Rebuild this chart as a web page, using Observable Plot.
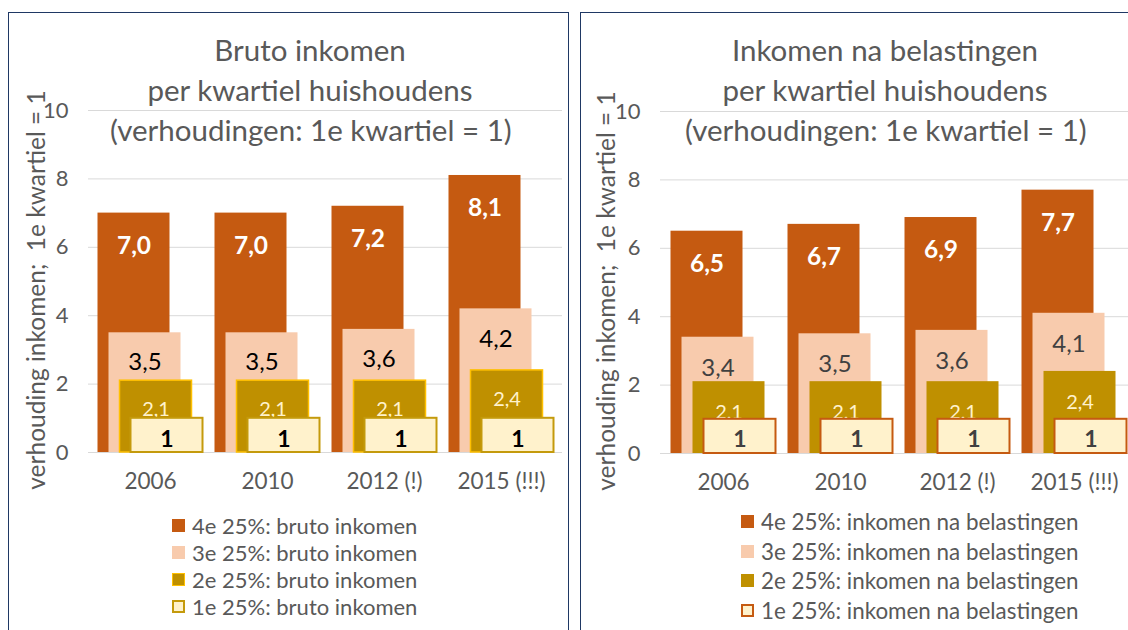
<!DOCTYPE html>
<html>
<head>
<meta charset="utf-8">
<script src="https://cdn.jsdelivr.net/npm/d3@7"></script>
<script src="https://cdn.jsdelivr.net/npm/@observablehq/plot@0.6"></script>
<style>
  html, body { margin: 0; padding: 0; background: #fff; }
  #page { position: relative; width: 1128px; height: 630px; overflow: hidden; background: #fff; font-family: Lato, "Open Sans", sans-serif; color: #595959; }
  .panel { position: absolute; border: 1.5px solid #1f3864; box-sizing: border-box; }
  .chart { position: absolute; top: 0; }
  .chart svg { max-width: none !important; }
  .title { position: absolute; text-align: center; font-size: 29.5px; line-height: 40px; color: #595959; white-space: nowrap; }
  .ylab { position: absolute; font-size: 24.5px; color: #595959; white-space: pre; transform: translate(-50%, -50%) rotate(-90deg); }
  .legend { position: absolute; color: #595959; }
  .legend .row { display: flex; align-items: center; white-space: nowrap; }
  .legend .sw { width: 13px; height: 13px; box-sizing: border-box; margin-right: 7px; flex: none; }
</style>
</head>
<body>
<div id="page">
  <div class="panel" style="left:8px; top:12px; width:561px; height:640px;"></div>
  <div class="panel" style="left:580px; top:12px; width:600px; height:640px;"></div>
  <div id="left" class="chart" style="left:0px; width:570px;"></div>
  <div id="right" class="chart" style="left:580px; width:560px;"></div>
  <div class="title" style="left:110px; width:400px; top:30px;">Bruto inkomen<br>per kwartiel huishoudens<br>(verhoudingen: 1e kwartiel = 1)</div>
  <div class="title" style="left:685px; width:400px; top:30px;">Inkomen na belastingen<br>per kwartiel huishoudens<br>(verhoudingen: 1e kwartiel = 1)</div>
  <div class="ylab" style="left:35px; top:290px;">verhouding inkomen;  1e kwartiel = 1</div>
  <div class="ylab" style="left:605px; top:291px;">verhouding inkomen;  1e kwartiel = 1</div>
  <div id="legL" class="legend" style="left:172px; top:512px; font-size:22px;"></div>
  <div id="legR" class="legend" style="left:741px; top:507px; font-size:22.4px;"></div>
</div>
<script>
// ---- data ----
const years = ["2006", "2010", "2012 (!)", "2015 (!!!)"];
const yTicks = [0, 2, 4, 6, 8, 10];

const brutoQ4 = [7.0, 7.0, 7.2, 8.1];
const brutoQ3 = [3.5, 3.5, 3.6, 4.2];
const brutoQ2 = [2.1, 2.1, 2.1, 2.4];
const brutoQ1 = [1, 1, 1, 1];

const nettoQ4 = [6.5, 6.7, 6.9, 7.7];
const nettoQ3 = [3.4, 3.5, 3.6, 4.1];
const nettoQ2 = [2.1, 2.1, 2.1, 2.4];
const nettoQ1 = [1, 1, 1, 1];

const brutoLegend = ["4e 25%: bruto inkomen", "3e 25%: bruto inkomen", "2e 25%: bruto inkomen", "1e 25%: bruto inkomen"];
const nettoLegend = ["4e 25%: inkomen na belastingen", "3e 25%: inkomen na belastingen", "2e 25%: inkomen na belastingen", "1e 25%: inkomen na belastingen"];

// ---- styles ----
const C4 = "#c55a11", C3 = "#f8cbad", C2 = "#bf9000", C1 = "#fff2cc";

const fmt = v => (v === 1) ? "1" : v.toFixed(1).replace(".", ",");
const rows = arr => years.map((y, i) => ({year: y, value: arr[i]}));

function chart({series, width, height, marginLeft, marginRight, marginTop, marginBottom}) {
  const dxs = [-16.5, -5.5, 5.5, 16.5];
  const marks = [Plot.ruleY(yTicks, {stroke: "#d9d9d9", strokeWidth: 1})];
  series.forEach((s, i) => {
    const data = rows(s.values);
    marks.push(Plot.barY(data, {x: "year", y: "value", fill: s.fill, stroke: s.stroke || "none", strokeWidth: s.strokeWidth || 0, dx: dxs[i]}));
    marks.push(Plot.text(data, {x: "year", y: "value", text: d => fmt(d.value), dx: dxs[i], dy: s.dy, fill: s.textFill, fontSize: s.fontSize, fontWeight: s.fontWeight, lineAnchor: "middle"}));
  });
  marks.push(Plot.axisY({ticks: yTicks, tickSize: 0, tickPadding: 20, fontSize: 22, label: null}));
  marks.push(Plot.axisX({tickSize: 0, tickPadding: 21, fontSize: 22.5, label: null}));
  return Plot.plot({
    width, height, marginLeft, marginRight, marginTop, marginBottom,
    style: {fontFamily: "Lato, 'Open Sans', sans-serif", color: "#595959", background: "transparent", overflow: "visible", maxWidth: "none"},
    x: {domain: years, paddingInner: 0.386, paddingOuter: 0.193, insetLeft: 3, insetRight: 2},
    y: {domain: [0, 10]},
    marks
  });
}

const left = chart({
  width: 570, height: 500, marginLeft: 88, marginRight: 8, marginTop: 110, marginBottom: 48,
  series: [
    {values: brutoQ4, fill: C4, textFill: "#ffffff", fontSize: 24.5, fontWeight: "bold", dy: 33},
    {values: brutoQ3, fill: C3, textFill: "#000000", fontSize: 24, fontWeight: "normal", dy: 30},
    {values: brutoQ2, fill: C2, stroke: "#ffc000", strokeWidth: 1.5, textFill: "#fff2cc", fontSize: 20, fontWeight: "normal", dy: 29},
    {values: brutoQ1, fill: C1, stroke: "#c49a0c", strokeWidth: 2, textFill: "#000000", fontSize: 23, fontWeight: "bold", dy: 21}
  ]
});
document.getElementById("left").appendChild(left);

const right = chart({
  width: 560, height: 500, marginLeft: 80, marginRight: 4, marginTop: 111, marginBottom: 47,
  series: [
    {values: nettoQ4, fill: C4, textFill: "#ffffff", fontSize: 24.5, fontWeight: "bold", dy: 33},
    {values: nettoQ3, fill: C3, textFill: "#404040", fontSize: 24, fontWeight: "normal", dy: 31},
    {values: nettoQ2, fill: C2, textFill: "#fff2cc", fontSize: 20, fontWeight: "normal", dy: 31},
    {values: nettoQ1, fill: C1, stroke: C4, strokeWidth: 2, textFill: "#404040", fontSize: 23, fontWeight: "bold", dy: 20}
  ]
});
document.getElementById("right").appendChild(right);

function legend(el, labels, swatches, rowH) {
  labels.forEach((t, i) => {
    const r = document.createElement("div");
    r.className = "row";
    r.style.height = rowH + "px";
    const sw = document.createElement("div");
    sw.className = "sw";
    sw.style.background = swatches[i].fill;
    if (swatches[i].stroke) sw.style.border = swatches[i].sw + "px solid " + swatches[i].stroke;
    const tx = document.createElement("span");
    tx.textContent = t;
    r.appendChild(sw); r.appendChild(tx);
    el.appendChild(r);
  });
}
legend(document.getElementById("legL"), brutoLegend, [
  {fill: C4}, {fill: C3}, {fill: C2, stroke: "#ffc000", sw: 1.5}, {fill: C1, stroke: "#c49a0c", sw: 2.5}
], 27);
legend(document.getElementById("legR"), nettoLegend, [
  {fill: C4}, {fill: C3}, {fill: C2}, {fill: C1, stroke: C4, sw: 2.5}
], 29.5);
</script>
</body>
</html>
